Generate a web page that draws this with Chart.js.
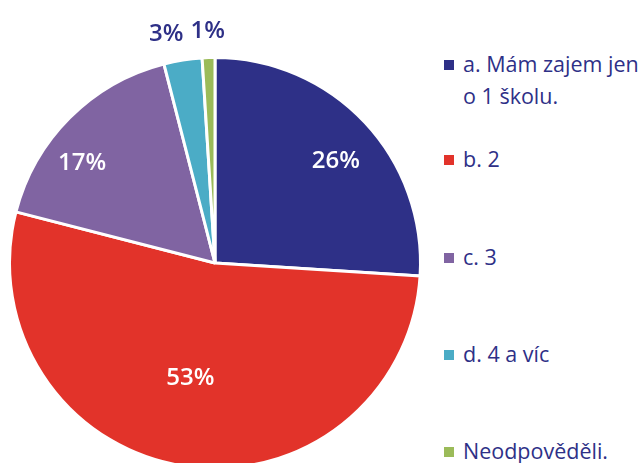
<!DOCTYPE html>
<html>
<head>
<meta charset="utf-8">
<script src="https://cdn.jsdelivr.net/npm/chart.js@4.4.0/dist/chart.umd.min.js"></script>
<style>
    html, body { margin: 0; padding: 0; width: 643px; height: 463px; overflow: hidden; background: #fff; }
    #pie { position: absolute; left: 0; top: 0; }
    #legend { position: absolute; left: 443px; top: 0; font-family: "Open Sans", sans-serif; font-size: 21.5px; color: #2e3087; }
    .item { position: absolute; left: 0; white-space: nowrap; line-height: 32px; }
    .item .box { position: absolute; left: 1px; top: 12px; width: 10px; height: 10px; }
    .item .txt { position: absolute; left: 20px; top: 0; }
</style>
</head>
<body>
<canvas id="pie" width="430" height="470"></canvas>
<div id="legend"></div>
<script>
const labels = ['a. Mám zajem jen\no 1 školu.', 'b. 2', 'c. 3', 'd. 4 a víc', 'Neodpověděli.'];
const values = [26, 53, 17, 3, 1];
const colors = ['#2e3087', '#e2332a', '#8064a2', '#4bacc6', '#9bbb59'];
// label placement: share of radius from centre (>1 = outside) and angle nudge in degrees
const labelDist = [0.77, 0.575, 0.81, 1.14, 1.13];
const labelTurn = [3, 3, -8, -3, 0];
const legendTops = [48, 143, 241, 338, 435];

let legend = document.getElementById('legend');
labels.forEach(function (l, i) {
    let item = document.createElement('div');
    item.className = 'item';
    item.style.top = legendTops[i] + 'px';
    item.innerHTML = '<span class="box" style="background:' + colors[i] + '"></span>' +
        '<span class="txt">' + l.replace('\n', '<br>') + '</span>';
    legend.appendChild(item);
});

const pctLabels = {
    id: 'pctLabels',
    afterDatasetsDraw: function (chart) {
        let ctx = chart.ctx;
        let meta = chart.getDatasetMeta(0);
        let total = values.reduce(function (a, b) { return a + b; }, 0);
        ctx.save();
        ctx.font = '600 24px "Open Sans", sans-serif';
        ctx.textAlign = 'center';
        ctx.textBaseline = 'middle';
        meta.data.forEach(function (arc, i) {
            let mid = (arc.startAngle + arc.endAngle) / 2 + labelTurn[i] * Math.PI / 180;
            let r = arc.outerRadius * labelDist[i];
            let x = arc.x + Math.cos(mid) * r;
            let y = arc.y + Math.sin(mid) * r;
            ctx.fillStyle = labelDist[i] > 1 ? '#2e3087' : '#ffffff';
            ctx.fillText(Math.round(values[i] / total * 100) + '%', x, y);
        });
        ctx.restore();
    }
};

new Chart(document.getElementById('pie'), {
    type: 'pie',
    data: {
        labels: labels,
        datasets: [{
            data: values,
            backgroundColor: colors,
            borderColor: '#ffffff',
            borderWidth: 3
        }]
    },
    plugins: [pctLabels],
    options: {
        responsive: false,
        animation: false,
        layout: { padding: { top: 56, left: 8, right: 8, bottom: 0 } },
        plugins: {
            legend: { display: false },
            tooltip: { enabled: false }
        }
    }
});
</script>
</body>
</html>
